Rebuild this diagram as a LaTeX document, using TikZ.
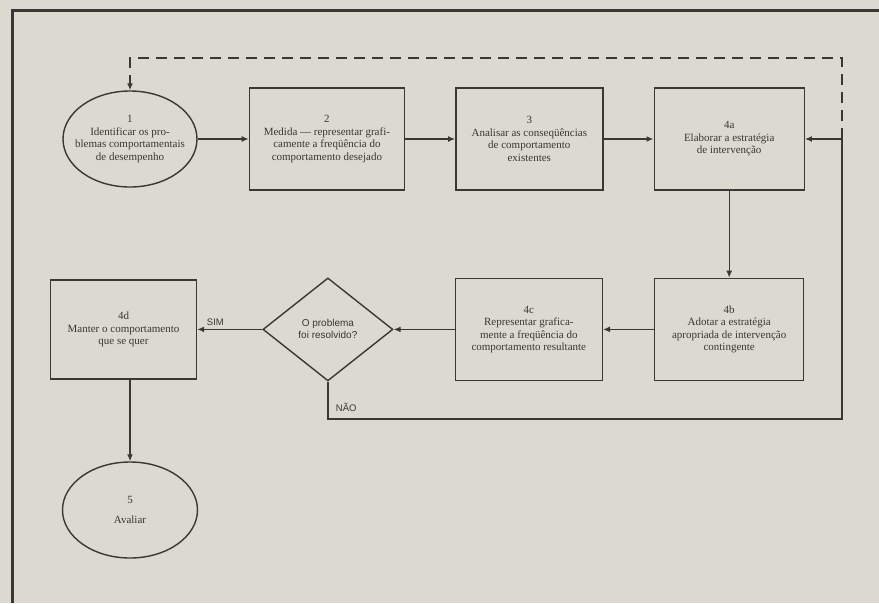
\documentclass[tikz,border=0pt]{standalone}
\usepackage{fontspec}
\setmainfont{Liberation Serif}
\newfontfamily\labelfont{Liberation Sans}
\usetikzlibrary{shapes.geometric,arrows.meta,positioning}
\definecolor{paper}{HTML}{DCD9D1}
\definecolor{ink}{HTML}{3A3735}

\begin{document}
\begin{tikzpicture}[x=1pt,y=-1pt,
    every node/.style={font=\fontsize{11}{12.5}\selectfont,text=ink,align=center},
    stage/.style={ellipse,draw=ink,line width=1.4pt,minimum width=134pt,minimum height=96pt,inner xsep=-10pt,inner ysep=0pt},
    stepbox/.style={rectangle,draw=ink,line width=1.4pt,minimum width=149pt,minimum height=102pt,inner sep=2pt},
    query/.style={diamond,draw=ink,line width=1.4pt,minimum width=130pt,minimum height=103pt,inner sep=0pt,font=\labelfont\fontsize{10}{12}\selectfont},
    flow/.style={draw=ink,line width=1.4pt,-{Latex[length=7pt,width=6pt]}},
    answer/.style={font=\labelfont\fontsize{9.5}{11}\selectfont}]
    \fill[paper] (0,0) rectangle (879,603);
    \useasboundingbox (0,0) rectangle (879,603);
    \draw[ink,line width=3pt] (12,603) -- (12,10) -- (879,10);

    \node[stage] (e1) at (130,139) {1\\Identificar os pro-\\blemas comportamentais\\de desempenho};
    \node[stepbox,minimum width=155pt] (b2) [right=51pt of e1] {2\\Medida --- representar grafi-\\camente a freqüência do\\comportamento desejado};
    \node[stepbox,minimum width=147pt] (b3) [right=50pt of b2] {3\\Analisar as conseqüências\\de comportamento\\existentes};
    \node[stepbox,minimum width=150pt] (b4a) [right=50pt of b3] {4a\\Elaborar a estratégia\\de intervenção};
    \node[stepbox] (b4b) [below=87pt of b4a] {4b\\Adotar a estratégia\\apropriada de intervenção\\contingente};
    \node[stepbox,minimum width=147pt] (b4c) [left=51pt of b4b] {4c\\Representar grafica-\\mente a freqüência do\\comportamento resultante};
    \node[query] (dec) [left=61pt of b4c] {O problema\\foi resolvido?};
    \node[stepbox,minimum width=146pt,minimum height=99pt] (b4d) [left=65pt of dec] {4d\\Manter o comportamento\\que se quer};
    \node[stage,minimum width=135pt] (e5) at (130,510) {5\\[7pt]Avaliar};

    \coordinate (back) at (842,419);
    \coordinate (top) at (842,58);

    \draw[flow] (e1) -- (b2);
    \draw[flow] (b2) -- (b3);
    \draw[flow] (b3) -- (b4a);
    \draw[flow] (b4a) -- (b4b);
    \draw[flow] (b4b) -- (b4c);
    \draw[flow] (b4c) -- (dec);
    \draw[flow] (dec) -- node[answer,above,pos=0.72] {SIM} (b4d);
    \draw[flow] (b4d.south -| e5) -- (e5);
    \draw[flow] (dec.south) -- node[answer,right=4pt,pos=0.7] {NÃO} (dec.south |- back) -- (back) |- (b4a.east);
    \draw[flow,dashed,dash pattern=on 11pt off 7pt] (back |- b4a.east) -- (top) -| (e1.north);
\end{tikzpicture}
\end{document}
